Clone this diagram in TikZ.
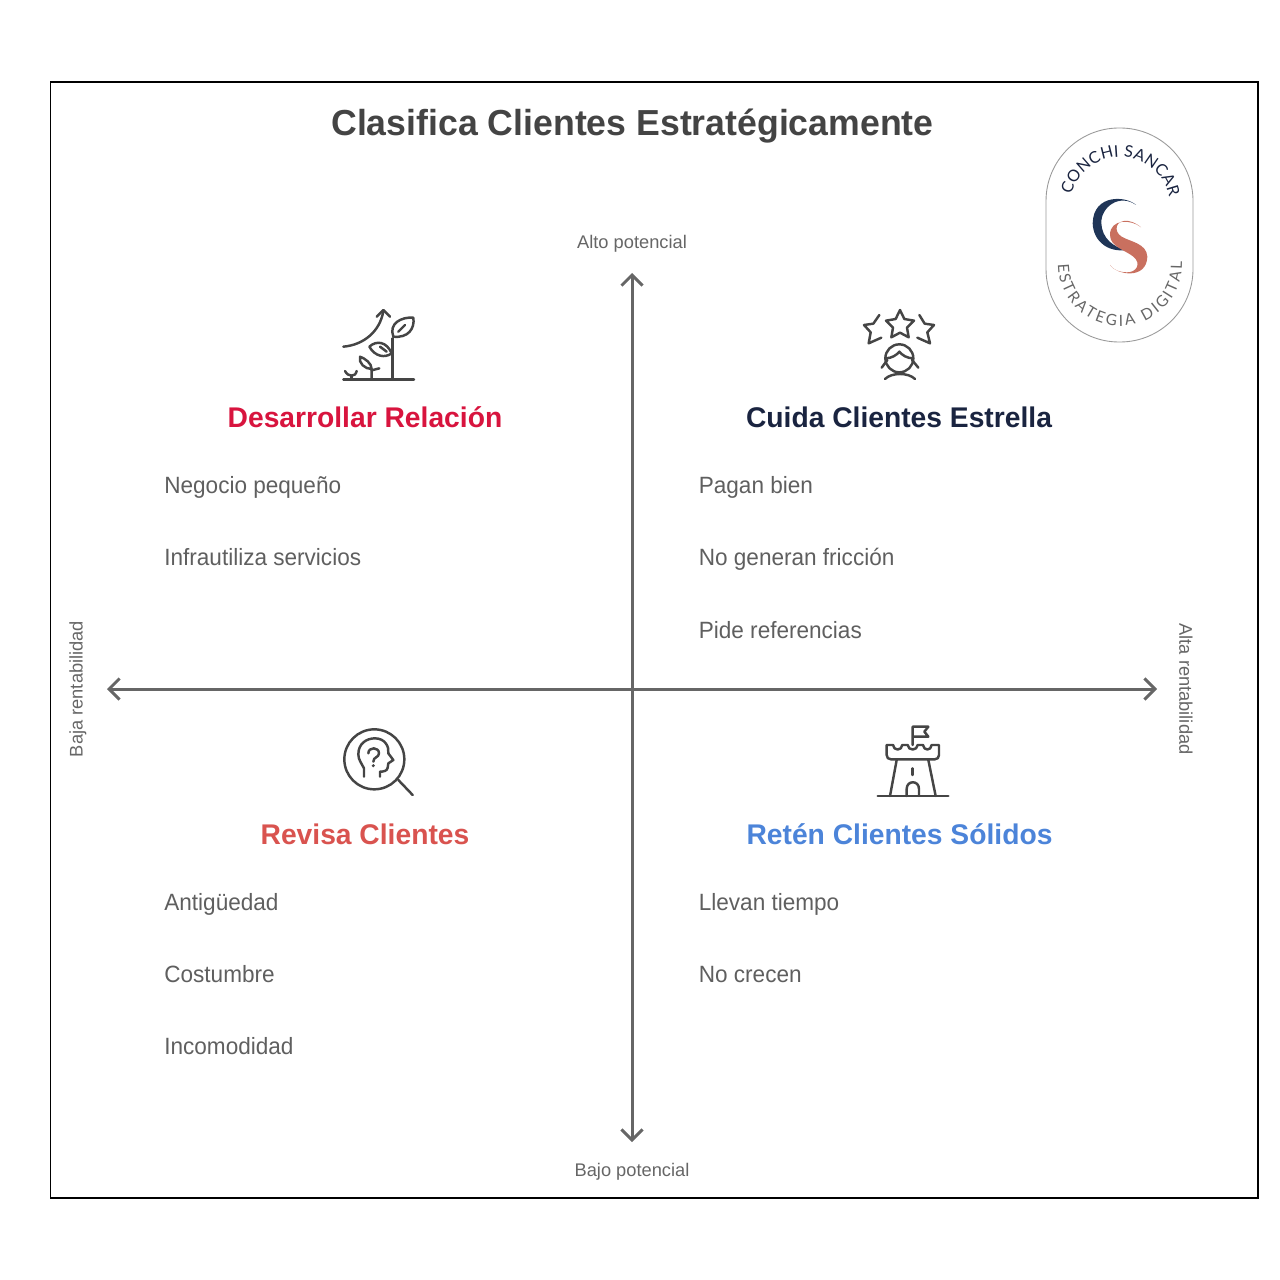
\documentclass[tikz,border=0pt]{standalone}
\usepackage{fontspec}
\setmainfont{Liberation Sans}
\newfontfamily\logofont{Lato}
\usetikzlibrary{arrows.meta,decorations.text}
\definecolor{axisgray}{HTML}{666666}
\definecolor{itemgray}{HTML}{5F5F5F}
\definecolor{titlegray}{HTML}{444444}
\definecolor{iconink}{HTML}{454545}
\definecolor{redrel}{HTML}{D8143E}
\definecolor{navystar}{HTML}{1A2440}
\definecolor{redrev}{HTML}{D9534F}
\definecolor{bluesol}{HTML}{4C84D9}
\definecolor{logonavy}{HTML}{1F3557}
\definecolor{logosalmon}{HTML}{C9705F}
\tikzset{
  itemtext/.style={anchor=base west,inner sep=0pt,text=itemgray,font=\fontsize{13.4}{16}\selectfont\addfontfeature{FakeStretch=0.958}},
  headtext/.style={anchor=base,inner sep=0pt,font=\fontsize{16.2}{20}\bfseries\selectfont\addfontfeature{FakeStretch=0.992}},
  axistext/.style={inner sep=0pt,text=axisgray,font=\fontsize{10.4}{12}\selectfont},
  axisline/.style={draw=axisgray,line width=1.7pt,{Straight Barb[length=6pt,width=12pt]}-{Straight Barb[length=6pt,width=12pt]}},
  iconline/.style={draw=iconink,line width=1.4pt,line cap=round,line join=round},
  iconzoom/.style={shift={#1},x=0.00667cm,y=-0.00667cm}
}
\begin{document}
\begin{tikzpicture}[x=0.02cm,y=-0.02cm]
\useasboundingbox (0,0) rectangle (1280,1280);
% marco
\draw[black,line width=0.75pt] (50.5,82) rectangle (1258,1198);
% titulo
\node[anchor=base,inner sep=0pt,text=titlegray,font=\fontsize{20.6}{24}\bfseries\selectfont\addfontfeature{FakeStretch=0.985}] (title) at (632.5,136) {Clasifica Clientes Estratégicamente};

% ejes
\coordinate (W) at (107,689);
\coordinate (E) at (1157,689);
\coordinate (N) at (632,273);
\coordinate (S) at (632,1142);
\draw[axisline] (W) -- (E);
\draw[axisline] (S) -- (N);
\node[axistext,anchor=base] (altop) at (632,249) {Alto potencial};
\node[axistext,anchor=base] (bajop) at (632,1176) {Bajo potencial};
\node[axistext,rotate=90] (bajar) at (78,689) {Baja rentabilidad};
\node[axistext,rotate=-90] (altar) at (1186,689) {Alta rentabilidad};

% cuadrantes
\node[headtext,text=redrel] (rel) at (365,427) {Desarrollar Relación};
\node[headtext,text=navystar] (star) at (899,427) {Cuida Clientes Estrella};
\node[headtext,text=redrev] (rev) at (365,844) {Revisa Clientes};
\node[headtext,text=bluesol] (sol) at (899.5,844) {Retén Clientes Sólidos};

\node[itemtext] (rel1) at (164,493) {Negocio pequeño};
\node[itemtext] (rel2) at (164,565) {Infrautiliza servicios};
\node[itemtext] (star1) at (698.5,493) {Pagan bien};
\node[itemtext] (star2) at (698.5,565) {No generan fricción};
\node[itemtext] (star3) at (698.5,638) {Pide referencias};
\node[itemtext] (rev1) at (164,910) {Antigüedad};
\node[itemtext] (rev2) at (164,982) {Costumbre};
\node[itemtext] (rev3) at (164,1054) {Incomodidad};
\node[itemtext] (sol1) at (698.5,910) {Llevan tiempo};
\node[itemtext] (sol2) at (698.5,982) {No crecen};

% planta
\begin{scope}[iconzoom={(330,295)},iconline]
\draw (40,254) -- (252,254);
\draw (188,254) -- (188,130);
\draw (190,125) .. controls (175,85) and (215,65) .. (250,68) .. controls (255,100) and (235,130) .. (190,125);
\draw (205,110) -- (225,90);
\draw (185,175) .. controls (170,140) and (140,135) .. (118,155) .. controls (135,185) and (165,190) .. (185,175);
\draw (150,155) -- (170,170);
\draw (125,254) -- (125,222) .. controls (125,205) and (105,190) .. (90,185) .. controls (85,205) and (105,222) .. (125,222);
\draw (125,226) -- (148,220);
\draw (65,254) -- (65,242);
\draw (45,228) .. controls (50,238) and (58,242) .. (65,242) .. controls (72,242) and (78,238) .. (80,228);
\draw (40,155) .. controls (100,150) and (150,110) .. (160,48);
\draw (140,65) -- (160,45) -- (180,65);
\end{scope}

% estrellas
\begin{scope}[iconzoom={(850,295)},iconline]
\draw (150,45) -- (163,72) -- (192,77) -- (171,98) -- (176,127) -- (150,113) -- (124,127) -- (129,98) -- (108,77) -- (137,72) -- cycle;
\draw (88,60) -- (70,86) -- (42,90) -- (62,112) -- (56,145) -- (94,128);
\draw (208,60) -- (224,86) -- (252,90) -- (232,112) -- (240,145) -- (202,128);
\draw (148,190) circle [radius=42];
\draw (107,190) .. controls (125,190) and (140,180) .. (148,170) .. controls (156,180) and (171,190) .. (189,190);
\draw (95,218) -- (112,195);
\draw (205,218) -- (186,195);
\draw (105,252) .. controls (125,232) and (175,232) .. (195,252);
\end{scope}

% cabeza
\begin{scope}[iconzoom={(330,715)},iconline]
\draw (133,133) circle [radius=90];
\draw (205,195) -- (248,240);
\draw (102,185) -- (102,160) .. controls (95,145) and (85,135) .. (85,118) .. controls (85,85) and (110,70) .. (135,70) .. controls (165,70) and (178,95) .. (175,115) -- (190,135) -- (175,145) -- (173,158) .. controls (172,168) and (160,170) .. (150,170) -- (150,185);
\draw (115,115) .. controls (115,95) and (147,95) .. (147,115) .. controls (147,128) and (130,125) .. (130,140);
\fill[iconink] (130,152) circle [radius=5];
\end{scope}

% castillo
\begin{scope}[iconzoom={(865,715)},iconline]
\draw (38,243) -- (250,243);
\draw (95,135) -- (75,243);
\draw (190,135) -- (212,243);
\draw (125,243) -- (125,222) .. controls (125,195) and (162,195) .. (162,222) -- (162,243);
\draw (143,160) -- (143,180);
\draw (65,90) -- (65,120) .. controls (65,128) and (70,133) .. (78,133) -- (209,133) .. controls (217,133) and (222,128) .. (222,120) -- (222,90) -- (200,90) .. controls (198,108) and (176,108) .. (174,90) -- (158,90) .. controls (156,108) and (130,108) .. (128,90) -- (112,90) .. controls (110,108) and (86,108) .. (84,90) -- cycle;
\draw (143,90) -- (143,35) -- (190,35) -- (178,50) -- (190,65) -- (143,65);
\end{scope}

% sello
\draw[gray!80,line width=0.5pt,rounded corners=1.46cm] (1046,128) rectangle (1193,342);
\path[postaction={decorate},decoration={text along path,text align=fit to path,
  text={|\logofont\fontsize{9.2}{11}\selectfont\color{navystar}|CONCHI SANCAR}}]
  (1071.5,194.9) arc [start angle=194,end angle=349,radius=50];
\path[postaction={decorate},decoration={text along path,text align=fit to path,
  text={|\logofont\fontsize{8.8}{11}\selectfont\color{axisgray}|ESTRATEGIA DIGITAL}}]
  (1058,264) arc [start angle=180,end angle=-2,radius=62];
\begin{scope}[iconzoom={(1030,110)}]
\fill[logonavy] (318,285) .. controls (290,258) and (190,250) .. (188,340) .. controls (190,395) and (235,428) .. (290,420) .. controls (250,412) and (216,385) .. (214,340) .. controls (212,290) and (270,250) .. (318,285) -- cycle;
\fill[logosalmon] (333,352) .. controls (305,328) and (240,325) .. (240,375) .. controls (240,410) and (285,420) .. (310,440) .. controls (335,460) and (320,488) .. (290,487) .. controls (270,487) and (250,480) .. (240,465) .. controls (260,495) and (350,510) .. (352,440) .. controls (350,400) and (300,395) .. (275,380) .. controls (250,365) and (255,328) .. (295,333) .. controls (312,336) and (325,345) .. (333,352) -- cycle;
\end{scope}
\end{tikzpicture}
\end{document}
